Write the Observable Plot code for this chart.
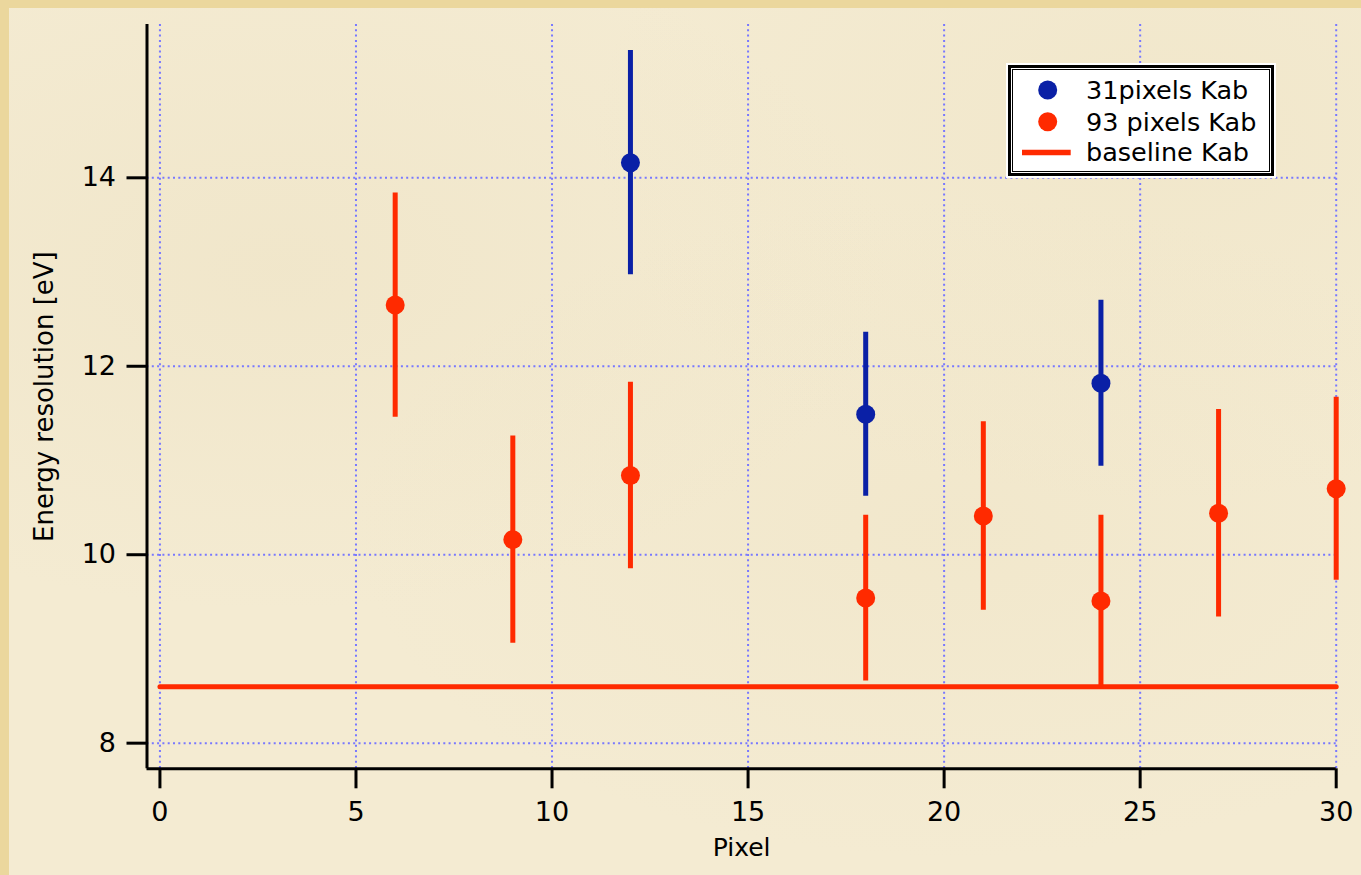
<!DOCTYPE html>
<html>
<head>
<meta charset="utf-8">
<script src="https://cdn.jsdelivr.net/npm/d3@7"></script>
<script src="https://cdn.jsdelivr.net/npm/@observablehq/plot@0.6"></script>
<style>
  html, body { margin: 0; padding: 0; }
  body {
    width: 1361px; height: 875px; overflow: hidden;
    background: #ebd79d;
    font-family: "DejaVu Sans", sans-serif;
  }
  #paper {
    position: absolute; left: 9px; top: 8px; right: 0; bottom: 0;
    background:
      radial-gradient(ellipse at 20% 30%, rgba(228,214,176,0.22), rgba(0,0,0,0) 40%),
      radial-gradient(ellipse at 70% 60%, rgba(232,218,180,0.2), rgba(0,0,0,0) 45%),
      radial-gradient(ellipse at 85% 15%, rgba(228,214,172,0.18), rgba(0,0,0,0) 35%),
      #f4ebd2;
  }
  #chart { position: absolute; left: 0; top: 0; }
  #legend {
    position: absolute; left: 1006px; top: 63px;
  }
</style>
</head>
<body>
<div id="paper"></div>
<div id="chart"></div>
<div id="legend"></div>
<script>
// Energy resolution per pixel, Kα(b) line, two array configurations
const pixels31 = [12, 18, 24];
const resolution31 = [14.16, 11.49, 11.82];
const error31 = [1.19, 0.87, 0.88];

const pixels93 = [6, 9, 12, 18, 21, 24, 27, 30];
const resolution93 = [12.65, 10.16, 10.84, 9.54, 10.41, 9.51, 10.44, 10.70];
const error93 = [1.19, 1.10, 0.99, 0.88, 1.00, 0.91, 1.10, 0.97];

const baselinePixels = [0, 30];
const baselineResolution = 8.6;

const seriesNames = ["31pixels Kab", "93 pixels Kab", "baseline Kab"];
const seriesColors = ["#0a20a6", "#ff2a00", "#ff2a00"];

const xTicks = [0, 5, 10, 15, 20, 25, 30];
const yTicks = [8, 10, 12, 14];
const xDomain = [-0.33, 30];
const yDomain = [7.728, 15.627];

const xLabel = "Pixel";
const yLabel = "Energy resolution [eV]";

const gridColor = "#7878ff";

const rows31 = pixels31.map((p, i) => ({pixel: p, res: resolution31[i], err: error31[i]}));
const rows93 = pixels93.map((p, i) => ({pixel: p, res: resolution93[i], err: error93[i]}));
const baselineRows = baselinePixels.map(p => ({pixel: p, res: baselineResolution}));

const chart = Plot.plot({
  width: 1361,
  height: 875,
  marginLeft: 146.5,
  marginRight: 25.3,
  marginTop: 24,
  marginBottom: 106.7,
  style: {background: "transparent", fontFamily: "DejaVu Sans, sans-serif", fontSize: "27px", color: "#000"},
  x: {domain: xDomain, axis: null},
  y: {domain: yDomain, axis: null},
  marks: [
    // dotted grid
    Plot.ruleX(xTicks, {stroke: gridColor, strokeWidth: 2, strokeDasharray: "2,3.3"}),
    Plot.ruleY(yTicks, {stroke: gridColor, strokeWidth: 2, strokeDasharray: "2,3.3"}),
    // baseline level
    Plot.line(baselineRows, {x: "pixel", y: "res", stroke: seriesColors[2], strokeWidth: 5}),
    // error bars
    Plot.ruleX(rows93, {x: "pixel", y1: d => d.res - d.err, y2: d => d.res + d.err, stroke: seriesColors[1], strokeWidth: 5}),
    Plot.ruleX(rows31, {x: "pixel", y1: d => d.res - d.err, y2: d => d.res + d.err, stroke: seriesColors[0], strokeWidth: 5}),
    // measured values
    Plot.dot(rows93, {x: "pixel", y: "res", r: 9.5, fill: seriesColors[1], stroke: null}),
    Plot.dot(rows31, {x: "pixel", y: "res", r: 9.5, fill: seriesColors[0], stroke: null}),
    // axis lines
    Plot.ruleX([xDomain[0]], {stroke: "#000", strokeWidth: 3}),
    Plot.ruleY([yDomain[0]], {stroke: "#000", strokeWidth: 3}),
    // ticks and tick labels
    Plot.axisX({ticks: xTicks, tickSize: 20, tickPadding: 13, strokeWidth: 3, fontSize: 27, label: null}),
    Plot.axisY({ticks: yTicks, tickSize: 20, tickPadding: 11, strokeWidth: 3, fontSize: 27, label: null}),
    // axis titles
    Plot.text([xLabel], {frameAnchor: "bottom", dy: 87, fontSize: 25, fill: "#000"}),
    Plot.text([yLabel], {frameAnchor: "left", textAnchor: "middle", dx: -102, rotate: -90, fontSize: 26, fill: "#000"})
  ]
});
document.getElementById("chart").appendChild(chart);

// legend box
const lg = d3.select("#legend").append("svg")
  .attr("width", 272).attr("height", 117)
  .style("font-family", "DejaVu Sans, sans-serif");
lg.append("rect").attr("x", 1).attr("y", 1).attr("width", 268).attr("height", 113)
  .attr("fill", "#fff").attr("stroke", "#fff").attr("stroke-width", 2);
lg.append("rect").attr("x", 3.5).attr("y", 3.5).attr("width", 263).attr("height", 108)
  .attr("fill", "#fff").attr("stroke", "#000").attr("stroke-width", 3);
lg.append("rect").attr("x", 6.5).attr("y", 6.5).attr("width", 257).attr("height", 102)
  .attr("fill", "none").attr("stroke", "#000").attr("stroke-width", 1);
const rowY = [27, 58.7, 89.5];
seriesNames.forEach((name, i) => {
  if (i < 2) {
    lg.append("circle").attr("cx", 41.7).attr("cy", rowY[i]).attr("r", 9.5).attr("fill", seriesColors[i]);
  } else {
    lg.append("line").attr("x1", 16).attr("x2", 64.7).attr("y1", rowY[i]).attr("y2", rowY[i])
      .attr("stroke", seriesColors[i]).attr("stroke-width", 5.5);
  }
  lg.append("text").attr("x", 80).attr("y", rowY[i] + 8.8)
    .attr("font-size", 25.5).attr("fill", "#000").text(name);
});
</script>
</body>
</html>
